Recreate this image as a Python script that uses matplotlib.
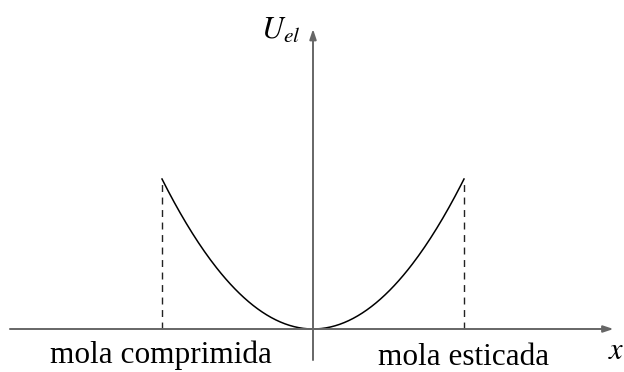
import matplotlib.pyplot as plt
import numpy as np

plt.rcParams['mathtext.fontset'] = 'stix'

# spring potential energy U = x^2 (schematic), stretched between -x_max and x_max
x_max = 1.0
x = np.linspace(-x_max, x_max, 200)
U = x ** 2

axis_x = (-2.007, 1.99)
axis_y = (-0.207, 2.0)
labels = ["mola comprimida", "mola esticada"]
label_x = [-1.01, 1.0]
label_y = [-0.227, -0.24]

fig = plt.figure(figsize=(6.24, 3.72), dpi=100)
ax = fig.add_axes([0, 0, 1, 1])
ax.set_xlim(-313 / 151, 311 / 151)
ax.set_ylim(-43 / 150, 329 / 150)
ax.axis('off')

axis_col = '#666666'
ax.annotate("", xy=(axis_x[1], 0), xytext=(axis_x[0], 0),
            arrowprops=dict(arrowstyle='-|>,head_length=0.6,head_width=0.2',
                            color=axis_col, lw=1.4, shrinkA=0, shrinkB=0))
ax.annotate("", xy=(0, axis_y[1]), xytext=(0, axis_y[0]),
            arrowprops=dict(arrowstyle='-|>,head_length=0.6,head_width=0.2',
                            color=axis_col, lw=1.4, shrinkA=0, shrinkB=0))

ax.plot(x, U, color='black', lw=1.1)
for xe in (-x_max, x_max):
    ax.plot([xe, xe], [0, xe ** 2], color='#222222', lw=1.0, ls=(0, (5, 4)))

for lx, ly, lab in zip(label_x, label_y, labels):
    ax.text(lx, ly, lab, family='Liberation Serif', fontsize=22.5,
            ha='center', va='baseline')
ax.text(2.005, -0.145, r'$x$', fontsize=22, ha='center', va='center')
ax.text(-0.215, 1.99, r'$U_{el}$', fontsize=22, ha='center', va='center')

fig.savefig('out.png', dpi=100)
